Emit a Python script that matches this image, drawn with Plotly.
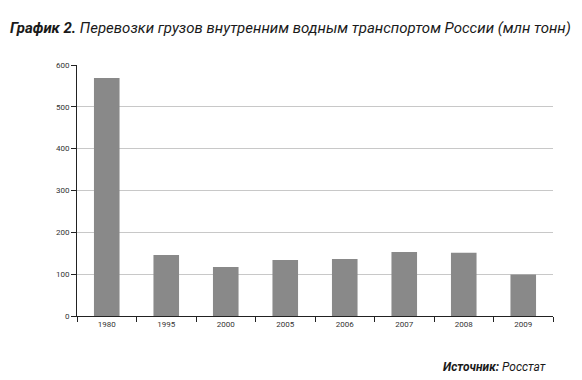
import plotly.graph_objects as go

years = ["1980", "1995", "2000", "2005", "2006", "2007", "2008", "2009"]
values = [569, 146, 117, 134, 136, 153, 151, 99]
y_ticks = [0, 100, 200, 300, 400, 500, 600]

fig = go.Figure()
fig.add_trace(go.Bar(x=years, y=values, marker=dict(color="#898989", line=dict(width=0)), width=0.43))

fig.update_layout(
    width=582, height=380,
    margin=dict(l=77, r=29, t=65, b=64),
    paper_bgcolor="white", plot_bgcolor="white",
    showlegend=False,
    font=dict(family="Roboto, Liberation Sans, sans-serif", size=8, color="#333"),
    bargap=0.57,
)
fig.update_xaxes(
    type="category", showline=True, linecolor="#222", linewidth=1,
    ticks="outside", tickson="boundaries", ticklen=5, tickcolor="#222",
    showgrid=False, tickfont=dict(size=8, color="#333"),
)
fig.update_yaxes(
    range=[0, 600], tickvals=y_ticks, showline=True, linecolor="#222", linewidth=1,
    ticks="outside", ticklen=5, tickcolor="#222",
    showgrid=True, gridcolor="#c8c8c8", gridwidth=1, zeroline=False,
    tickfont=dict(size=8, color="#333"),
)
fig.add_annotation(
    xref="paper", yref="paper", x=-0.145, y=1.147, xanchor="left", yanchor="middle",
    text="<b><i>График 2.</i></b> <i>Перевозки грузов внутренним водным транспортом России (млн тонн)</i>",
    showarrow=False, font=dict(family="Roboto, Liberation Sans, sans-serif", size=15, color="#1a1a1a"),
)
fig.add_annotation(
    xref="paper", yref="paper", x=0.989, y=-0.203, xanchor="right", yanchor="middle",
    text="<b><i>Источник:</i></b><i> Росстат</i>",
    showarrow=False, font=dict(family="Roboto, Liberation Sans, sans-serif", size=12, color="#1a1a1a"),
)
fig.write_html("out.html", post_script="document.body.style.margin='0';",
               config={"displayModeBar": False})
